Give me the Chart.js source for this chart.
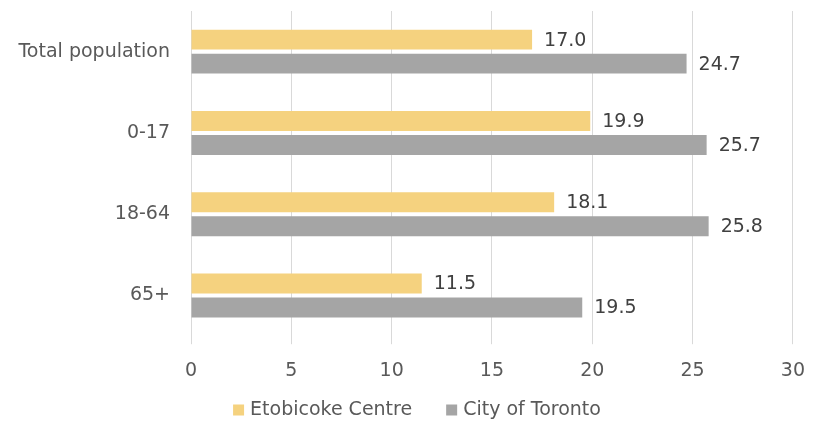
<!DOCTYPE html>
<html>
<head>
    <title>Low income by age</title>
    <script src="https://cdn.jsdelivr.net/npm/chart.js"></script>
    <style>
        body { margin: 0; background: #ffffff; }
        .chart-container { position: relative; width: 820px; height: 422px; }
    </style>
</head>
<body>
    <div class="chart-container">
        <canvas id="barChart"></canvas>
    </div>
<script>
    var categories = ["Total population", "0-17", "18-64", "65+"];
    var etobicokeValues = [17.0, 19.9, 18.1, 11.5];
    var torontoValues = [24.7, 25.7, 25.8, 19.5];
    var xTicks = [0, 5, 10, 15, 20, 25, 30];

    var fontFamily = "'DejaVu Sans', sans-serif";
    var fontSize = 19;

    // draws the value at the end of each bar
    var valueLabels = {
        id: "valueLabels",
        afterDatasetsDraw: function(chart) {
            var ctx = chart.ctx;
            ctx.save();
            ctx.font = fontSize + "px " + fontFamily;
            ctx.fillStyle = "#404040";
            ctx.textAlign = "left";
            ctx.textBaseline = "middle";
            chart.data.datasets.forEach(function(ds, i) {
                chart.getDatasetMeta(i).data.forEach(function(bar, j) {
                    ctx.fillText(ds.data[j].toFixed(1), bar.x + 12, bar.y + 1);
                });
            });
            ctx.restore();
        }
    };

    // legend drawn by hand so the item gap and box size match the original
    var bottomLegend = {
        id: "bottomLegend",
        afterDraw: function(chart) {
            var ctx = chart.ctx;
            var box = 11, textGap = 6, itemGap = 34, y = 410;
            ctx.save();
            ctx.font = fontSize + "px " + fontFamily;
            ctx.textBaseline = "middle";
            ctx.textAlign = "left";
            var items = chart.data.datasets.map(function(ds) {
                return { text: ds.label, color: ds.backgroundColor, w: ctx.measureText(ds.label).width };
            });
            var total = items.reduce(function(s, it) { return s + box + textGap + it.w; }, 0) + itemGap * (items.length - 1);
            var x = chart.width / 2 + 7 - total / 2;
            items.forEach(function(it) {
                ctx.fillStyle = it.color;
                ctx.fillRect(x, y - box / 2, box, box);
                x += box + textGap;
                ctx.fillStyle = "#595959";
                ctx.fillText(it.text, x, y);
                x += it.w + itemGap;
            });
            ctx.restore();
        }
    };

    new Chart(document.getElementById("barChart").getContext("2d"), {
        type: "bar",
        data: {
            labels: categories,
            datasets: [{
                label: "Etobicoke Centre",
                data: etobicokeValues,
                backgroundColor: "#F5D27F",
                categoryPercentage: 0.59,
                barPercentage: 0.83
            }, {
                label: "City of Toronto",
                data: torontoValues,
                backgroundColor: "#A5A5A5",
                categoryPercentage: 0.59,
                barPercentage: 0.83
            }]
        },
        options: {
            indexAxis: "y",
            responsive: true,
            maintainAspectRatio: false,
            animation: false,
            layout: { padding: { top: 11, right: 24, left: 0, bottom: 25 } },
            scales: {
                x: {
                    min: 0,
                    max: 30,
                    afterBuildTicks: function(axis) {
                        axis.ticks = xTicks.map(function(v) { return { value: v }; });
                    },
                    grid: { color: "#D9D9D9", drawTicks: true, tickLength: 8 },
                    border: { display: false },
                    ticks: {
                        color: "#595959",
                        font: { family: fontFamily, size: fontSize },
                        padding: 15
                    }
                },
                y: {
                    grid: { display: false },
                    border: { display: true, color: "#D9D9D9" },
                    afterFit: function(axis) {
                        axis.width = 191;
                        axis.paddingTop = 0;
                        axis.paddingBottom = 0;
                    },
                    ticks: {
                        color: "#595959",
                        font: { family: fontFamily, size: fontSize },
                        padding: 13
                    }
                }
            },
            plugins: {
                tooltip: { enabled: false },
                legend: { display: false }
            }
        },
        plugins: [valueLabels, bottomLegend]
    });
</script>
</body>
</html>
